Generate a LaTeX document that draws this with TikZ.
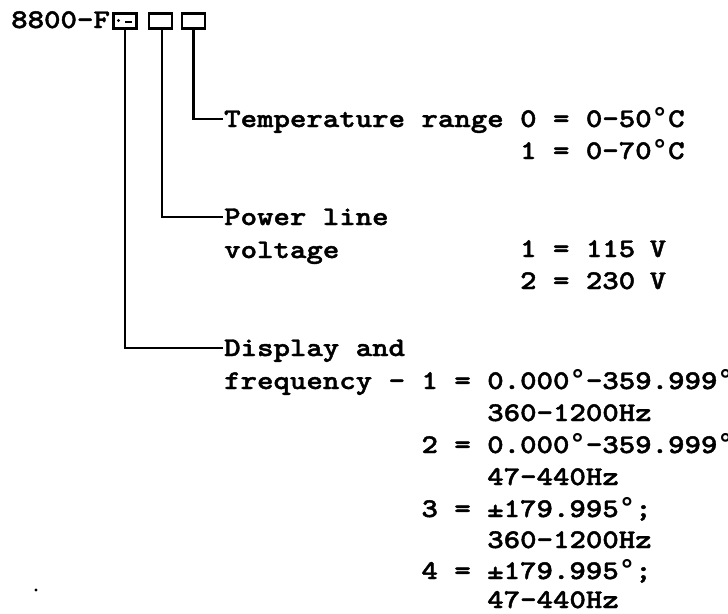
\documentclass[tikz,border=0pt]{standalone}
\usepackage{fontspec}
\newfontfamily\cour{lmmonolt10-bold.otf}[FakeStretch=1.16,FakeBold=1.6]
\newfontfamily\dgfont{DejaVu Sans Mono}[FakeStretch=1.01]
\newcommand\dg{{\dgfont\bfseries °}}
\begin{document}
\begin{tikzpicture}[x=1pt,y=-1pt,
  txt/.style={inner sep=0pt, anchor=base west, text height=20pt, text depth=4pt,
              font=\cour\fontsize{27}{32}\selectfont},
  digit/.style={draw, line width=2.5pt, minimum width=23pt, minimum height=15pt, inner sep=0pt},
  lead/.style={line width=2.8pt}]
\useasboundingbox (0,0) rectangle (728,613);
\def\w{16.44}
\node[txt] (head) at (11,28) {8800-F};
\node[digit] (b1) at (125,21) {};
\node[digit] (b2) at (160.5,21) {};
\node[digit] (b3) at (193.5,21) {};
\fill (118.5,20.5) circle (1.6pt);
\draw[line width=2pt] (125,21.5) -- (132,21.5);
% text
\node[txt] (temp) at (224,127) {Temperature range 0 = 0-50\dg C};
\node[txt] (temp1) at (224+18*\w,159) {1 = 0-70\dg C};
\node[txt] (pow) at (224,225) {Power line};
\node[txt] (volt) at (224,258) {voltage};
\node[txt] (v1) at (224+18*\w,257) {1 = 115\kern-2pt{} V};
\node[txt] (v2) at (224+18*\w,289) {2 = 230\kern-2pt{} V};
\node[txt] (disp) at (224,356) {Display and};
\node[txt] (freq) at (224,389) {frequency - 1 = 0.000\dg-359.999\dg};
\node[txt] (f1b) at (224+16*\w,421) {360-1200Hz};
\node[txt] (f2) at (224+12*\w,453) {2 = 0.000\dg-359.999\dg};
\node[txt] (f2b) at (224+16*\w,485) {47-440Hz};
\node[txt] (f3) at (224+12*\w,517) {3 = ±179.995\dg;};
\node[txt] (f3b) at (224+16*\w,548) {360-1200Hz};
\node[txt] (f4) at (224+12*\w,579) {4 = ±179.995\dg;};
\node[txt] (f4b) at (224+16*\w,608) {47-440Hz};
% leads
\draw[lead] (b3.south) |- ([xshift=-1pt]temp.west);
\draw[lead] ([xshift=1.5pt]b2.south) |- ([xshift=-1pt]pow.west);
\draw[lead] (b1.south) |- ([xshift=-1pt]disp.west);
\fill (36,590) circle (1.6pt);
\end{tikzpicture}
\end{document}
